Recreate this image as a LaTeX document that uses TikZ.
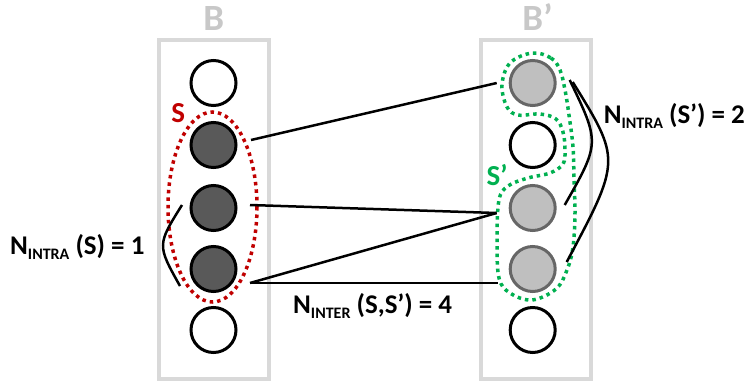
\documentclass[tikz,border=0pt]{standalone}
\usepackage{fontspec}
\setmainfont{Carlito}
\usetikzlibrary{calc}
\definecolor{binline}{RGB}{217,217,217}
\definecolor{binlabel}{RGB}{200,200,200}
\definecolor{setred}{RGB}{192,0,0}
\definecolor{setgreen}{RGB}{0,176,80}
\definecolor{darkfill}{RGB}{89,89,89}
\definecolor{lightfill}{RGB}{191,191,191}
\definecolor{lightline}{RGB}{102,102,102}
\newcommand{\sub}[1]{\raisebox{-5pt}{\fontsize{16pt}{16pt}\selectfont #1}}
\tikzset{
  bin/.style={draw=binline, line width=4pt, minimum width=110pt, minimum height=339pt, inner sep=0pt},
  binname/.style={anchor=base, text=binlabel, font=\fontsize{37pt}{39pt}\selectfont\bfseries},
  setname/.style={anchor=base, font=\fontsize{29pt}{31pt}\selectfont\bfseries},
  emptyitem/.style={circle, draw=black, fill=white, line width=3pt, minimum size=45pt, inner sep=0pt},
  darkitem/.style={emptyitem, fill=darkfill},
  lightitem/.style={emptyitem, draw=lightline, fill=lightfill},
  link/.style={black, line width=2.5pt},
  setline/.style={line width=3.5pt, dash pattern=on 3.5pt off 4pt},
  count/.style={anchor=base west, inner sep=0pt, font=\fontsize{27pt}{30pt}\selectfont\bfseries}
}
\begin{document}
\begin{tikzpicture}[x=1pt,y=-1pt]
\useasboundingbox (0,0) rectangle (748,383);

% bins
\node[bin] (B) at (213.7,209) {};
\node[bin] (Bp) at (535.7,209) {};
\node[binname] (Bname) at (213.8,30) {B};
\node[binname] (Bpname) at (537.5,30) {B’};

% items
\foreach \n/\y/\s in {1/83/emptyitem, 2/145/darkitem, 3/208/darkitem, 4/269/darkitem, 5/330/emptyitem}
  \node[\s] (b\n) at (213.5,\y) {};
\foreach \n/\y/\s in {1/83/lightitem, 2/145/emptyitem, 3/208/lightitem, 4/269/lightitem, 5/330/emptyitem}
  \node[\s] (c\n) at (532.7,\y) {};

% sets
\draw[setline, setred] (212.5,207) ellipse (44.5 and 95);
\draw[setline, setgreen] plot[smooth cycle, tension=0.6] coordinates {
  (532,53) (551,58) (560,70) (565,90) (569,115) (573,147) (574,180)
  (575,213) (573,247) (567,270) (556,289) (532,300) (510,293) (499,278)
  (497,240) (499,200) (508,186) (528,178) (550,173) (563,164) (565,150)
  (563,132) (556,119) (540,114) (518,115) (507,107) (502,85) (510,63)};
\node[setname, setred] (S) at (178.3,122) {S};
\node[setname, setgreen] (Sp) at (497,185) {S’};

% inter edges
\draw[link] ([shift={(13.5,-5)}]b2.east) -- ([shift={(-12,0)}]c1.west);
\draw[link] ([shift={(12.5,-3)}]b3.east) -- ([shift={(-12,5)}]c3.west);
\draw[link] ([shift={(12.5,14)}]b4.east) -- ([shift={(-12,5)}]c3.west);
\draw[link] ([shift={(12.5,14)}]b4.east) -- ([shift={(-11,14)}]c4.west);

% intra edges
\draw[link] ([shift={(-7.5,-3)}]b3.west) .. controls (157,245) .. ([shift={(-9.5,17)}]b4.west);
\draw[link] ([shift={(13,-3)}]c1.east) .. controls (600,143) .. ([shift={(8,-3)}]c3.east);
\draw[link] ([shift={(16,-1)}]c1.east) .. controls (621,160) .. ([shift={(10,-7)}]c4.east);

% counts
\node[count] (nS) at (10,254) {N\sub{INTRA} (S) = 1};
\node[count] (nSSp) at (293,313) {N\sub{INTER} (S,S’) = 4};
\node[count, anchor=base east] (nSp) at (745,123) {N\sub{INTRA} (S’) = 2};
\end{tikzpicture}
\end{document}
